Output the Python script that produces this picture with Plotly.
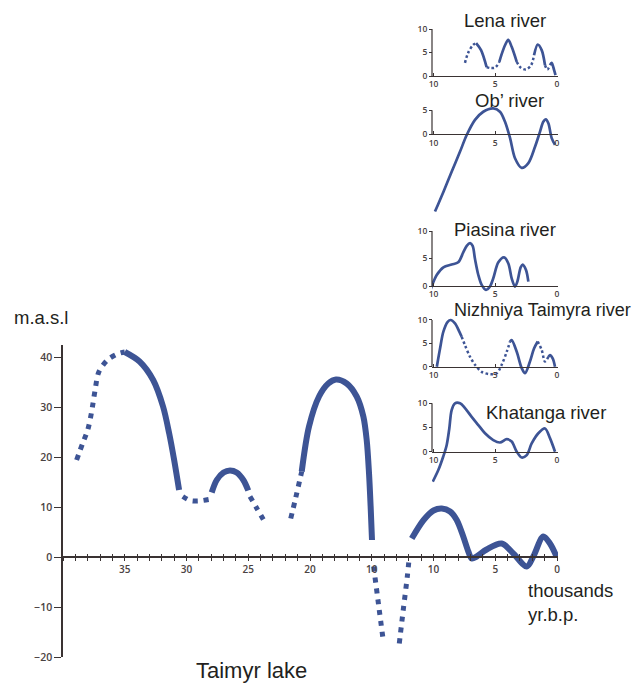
import plotly.graph_objects as go

# ---------------- DATA ----------------
# Taimyr lake level (m a.s.l.) vs age (thousand yr BP); seg = segment id, styles per segment
taimyr_age = [38.9, 38.4, 38.0, 37.7, 37.4, 37.1, 36.4, 35.6, 35.0,
              35.0, 33.8, 32.7, 31.9, 31.4, 31.0, 30.6,
              30.3, 29.7, 29.05, 28.2,
              27.96, 27.55, 27.0, 26.48, 25.94, 25.4, 25.0,
              24.86, 24.3, 23.64,
              21.56, 21.2, 20.67,
              20.67, 20.08, 19.27, 18.52, 17.9, 17.03, 16.22, 15.68, 15.41, 15.22, 15.09, 14.98,
              14.85, 14.45, 14.06,
              12.77, 12.45, 12.12, 11.96,
              11.76, 10.8, 10.0, 9.33, 8.66, 8.12, 7.59, 7.18, 6.9, 6.5, 5.7, 4.48, 3.54, 2.45, 1.92, 1.11, 0.57, 0.02]
taimyr_level = [19.4, 22.8, 25.4, 28.8, 33.4, 37.0, 39.4, 40.6, 41.0,
                41.0, 39.1, 35.4, 30.1, 24.7, 19.4, 13.4,
                12.1, 11.3, 11.2, 11.5,
                12.9, 15.4, 16.9, 17.3, 16.9, 15.4, 13.3,
                12.1, 9.7, 6.9,
                7.7, 11.4, 17.1,
                17.1, 26.1, 32.1, 34.7, 35.5, 34.7, 32.1, 28.1, 23.4, 16.7, 10.1, 3.4,
                -1.9, -9.5, -16.9,
                -17.3, -10.6, -3.9, 0.1,
                3.7, 7.4, 9.3, 9.7, 9.1, 7.4, 4.1, 1.1, -0.3, 0.1, 1.5, 2.7, 0.7, -1.9, 0.1, 4.1, 2.7, 0.0]
taimyr_seg = [0]*9 + [1]*7 + [2]*4 + [3]*7 + [4]*3 + [5]*3 + [6]*12 + [7]*3 + [8]*4 + [9]*18
taimyr_styles = ["dot", "solid", "dot", "solid", "dot", "dot", "solid", "dot", "dot", "solid"]
taimyr_tick_vals = [35, 30, 25, 20, 15, 10, 5, 0]
taimyr_tick_text = ["35", "30", "25", "20", "10", "10", "5", "0"]
taimyr_y_ticks = [-20, -10, 0, 10, 20, 30, 40]

lena_age = [7.45, 7.2, 6.8, 6.55,
            6.55, 6.15, 5.7,
            5.7, 5.4, 5.0, 4.67,
            4.67, 4.5, 4.2, 3.95, 3.67, 3.26,
            3.26, 2.9, 2.5, 2.1, 1.86,
            1.86, 1.56, 1.24, 0.97,
            0.97, 0.78, 0.57,
            0.57, 0.43, 0.24, 0.12]
lena_level = [2.8, 4.9, 6.6, 7.0,
              7.0, 5.5, 1.9,
              1.9, 1.7, 1.8, 3.0,
              3.0, 4.5, 6.6, 7.7, 6.2, 3.0,
              3.0, 1.7, 1.4, 2.3, 4.4,
              4.4, 6.7, 5.5, 2.3,
              2.3, 1.4, 2.3,
              2.3, 2.8, 1.3, 0.2]
lena_seg = [0]*4 + [1]*3 + [2]*4 + [3]*6 + [4]*5 + [5]*4 + [6]*3 + [7]*4
lena_styles = ["dot", "solid", "dot", "solid", "dot", "solid", "dot", "solid"]

ob_age = [9.88, 9.2, 8.53, 7.85, 7.31, 6.64, 5.97, 5.16, 4.62, 4.21, 3.8, 3.4, 2.86, 2.32,
          1.78, 1.38, 1.11, 0.91, 0.70, 0.43, 0.16]
ob_level = [-16.1, -12.0, -7.8, -3.6, -0.15, 3.0, 4.7, 5.4, 4.7, 2.6, -0.8, -5.0, -7.0, -6.0,
            -2.6, 0.5, 2.6, 3.1, 2.3, -0.8, -2.2]
ob_seg = [0]*21
ob_styles = ["solid"]

piasina_age = [10.42, 10.15, 9.74, 9.2, 8.53, 8.0, 7.59, 7.31, 7.04, 6.83, 6.64, 6.37, 6.1, 5.75,
               5.43, 5.16, 4.75, 4.29, 3.94, 3.67, 3.4, 3.21, 2.94, 2.78, 2.51, 2.32]
piasina_level = [-2.2, -0.1, 2.0, 3.4, 3.9, 4.3, 6.1, 7.3, 7.8, 7.3, 4.9, 2.0, 0.2, -0.7,
                 -0.1, 1.4, 4.3, 5.2, 4.1, 1.4, -0.1, 0.8, 3.4, 3.9, 2.9, 0.8]
piasina_seg = [0]*26
piasina_styles = ["solid"]

nizhniya_age = [9.73, 9.47, 9.2, 8.85, 8.61, 8.26, 7.91, 7.72,
                7.72, 7.45, 7.04, 6.64, 6.1, 5.43, 4.88, 4.48, 4.07, 3.8,
                3.8, 3.67, 3.26, 2.86, 2.59, 2.19, 1.86, 1.56,
                1.56, 1.24, 0.97, 0.70,
                0.70, 0.57, 0.35, 0.16]
nizhniya_level = [0.0, 3.9, 7.5, 9.6, 10.0, 9.3, 7.5, 6.4,
                  6.4, 4.6, 2.1, 0.4, -1.1, -1.6, -1.4, 0.4, 3.2, 5.4,
                  5.4, 5.7, 3.2, -0.3, -1.4, 1.1, 3.9, 5.4,
                  5.4, 3.6, 1.1, 2.1,
                  2.1, 2.5, 1.8, 0.0]
nizhniya_seg = [0]*8 + [1]*10 + [2]*8 + [3]*4 + [4]*4
nizhniya_styles = ["solid", "dot", "solid", "dot", "solid"]

khatanga_age = [10.06, 9.61, 9.21, 8.93, 8.72, 8.53, 8.26, 7.85, 7.45, 6.91, 6.37, 5.83, 5.16,
                4.62, 4.07, 3.67, 3.26, 2.86, 2.45, 2.05, 1.51, 0.97, 0.57, 0.16]
khatanga_level = [-6.2, -3.8, -1.0, 1.4, 4.8, 8.6, 10.0, 10.0, 9.0, 7.2, 5.5, 3.8, 2.4,
                  1.9, 2.6, 2.1, 0.0, -1.2, -0.7, 1.7, 3.8, 4.8, 2.8, 0.0]
khatanga_seg = [0]*24
khatanga_styles = ["solid"]

# ---------------- LAYOUT HELPERS ----------------
W, H = 640, 683
PLOT_L, PLOT_R = 62, 558   # page px of main plot area
ML = PLOT_L
PW = PLOT_R - PLOT_L
MR = W - ML - PW
PX_PER_KY = 12.35
X0_PX = 557.0  # page pixel of age 0


def pxx(px):
    return (px - PLOT_L) / PW


def pxy(py):
    return 1 - py / H


BLUE = "#3d5495"
AXIS = "#3a3333"
TICKC = "#4a4242"
TXT = "#231f20"

fig = go.Figure()


def add_series(xs, ys, segs, styles, xa, ya, w_solid, w_dot, dot_pattern):
    for s, st in enumerate(styles):
        sx = [x for x, k in zip(xs, segs) if k == s]
        sy = [y for y, k in zip(ys, segs) if k == s]
        fig.add_trace(go.Scatter(
            x=sx, y=sy, mode="lines", xaxis=xa, yaxis=ya, showlegend=False, hoverinfo="skip",
            line=dict(color=BLUE, width=w_solid if st == "solid" else w_dot,
                      dash="solid" if st == "solid" else dot_pattern,
                      shape="spline", smoothing=0.9)))


# main chart
add_series(taimyr_age, taimyr_level, taimyr_seg, taimyr_styles, "x", "y", 6, 5, "5px,6px")
fig.add_trace(go.Scatter(x=[], y=[], xaxis="x7", yaxis="y", showlegend=False))

main_x_left = (X0_PX - PLOT_L) / PX_PER_KY
main_x_right = (X0_PX - PLOT_R) / PX_PER_KY
all_ticks = list(range(0, 41))
tick_labels = {v: t for v, t in zip(taimyr_tick_vals, taimyr_tick_text)}
layout = dict(
    template="none",
    width=W, height=H, autosize=False,
    margin=dict(l=ML, r=MR, t=0, b=0, pad=0, autoexpand=False),
    paper_bgcolor="white", plot_bgcolor="white",
    showlegend=False,
    xaxis=dict(domain=[0, 1], range=[main_x_left, main_x_right], anchor="free", position=pxy(557),
               automargin=False,
               showline=True, linecolor=AXIS, linewidth=1.5, showgrid=False, zeroline=False,
               tickmode="array", tickvals=all_ticks,
               ticktext=[tick_labels.get(v, "") for v in all_ticks],
               ticks="outside", ticklen=3, tickwidth=1.2, tickcolor=AXIS,
               tickfont=dict(family="Open Sans", size=10, color=TICKC, weight=600)),
    xaxis7=dict(overlaying="x", range=[main_x_left, main_x_right], anchor="free", position=pxy(557),
                automargin=False,
                showline=False, showgrid=False, zeroline=False, tickmode="array", tickvals=all_ticks,
                showticklabels=False, ticks="inside", ticklen=3, tickwidth=1.2, tickcolor=AXIS),
    yaxis=dict(domain=[pxy(657), pxy(345)], range=[-20, (X0_PX - 345) / 5.0],
               anchor="free", position=0, automargin=False,
               showline=True, linecolor=AXIS, linewidth=1.5,
               showgrid=False, zeroline=False, tickmode="array", tickvals=taimyr_y_ticks,
               ticks="outside", ticklen=7, tickwidth=1.2, tickcolor=AXIS,
               tickfont=dict(family="Open Sans", size=10.5, color=TICKC, weight=600)),
)

# insets: (data, zero px, px per unit, ymin, ymax, top tick)
insets = [
    (lena_age, lena_level, lena_seg, lena_styles, 76.0, 4.7, -1.0, 10.6, 10, [0, 5, 10]),
    (ob_age, ob_level, ob_seg, ob_styles, 134.3, 4.8, -17.2, 5.8, 5, [0, 5]),
    (piasina_age, piasina_level, piasina_seg, piasina_styles, 286.0, 5.5, -2.6, 10.6, 10, [0, 5, 10]),
    (nizhniya_age, nizhniya_level, nizhniya_seg, nizhniya_styles, 366.7, 4.67, -2.4, 10.6, 10, [0, 5, 10]),
    (khatanga_age, khatanga_level, khatanga_seg, khatanga_styles, 451.7, 4.84, -6.8, 10.6, 10, [0, 5, 10]),
]
inset_x_left_px, inset_x_right_px = 432.0, 557.5
inset_range = [(X0_PX - inset_x_left_px) / PX_PER_KY, (X0_PX - inset_x_right_px) / PX_PER_KY]
shapes = []
for i, (xs, ys, sg, stl, zp, ppu, vmin, vmax, top, yt) in enumerate(insets):
    n = i + 2
    add_series(xs, ys, sg, stl, f"x{n}", f"y{n}", 2.7, 2.5, "2.5px,2.5px")
    layout[f"xaxis{n}"] = dict(
        domain=[pxx(inset_x_left_px), pxx(inset_x_right_px)], range=inset_range,
        anchor="free", position=pxy(zp), automargin=False,
        showline=True, linecolor=AXIS, linewidth=1.2,
        showgrid=False, zeroline=False, tickmode="array", tickvals=[10, 5, 0],
        ticks="inside", ticklen=3, tickwidth=1, tickcolor=AXIS,
        tickfont=dict(family="Open Sans", size=8.5, color=TICKC, weight=600))
    layout[f"yaxis{n}"] = dict(
        domain=[pxy(zp - vmin * ppu), pxy(zp - vmax * ppu)], range=[vmin, vmax],
        anchor="free", position=pxx(inset_x_left_px), automargin=False,
        showline=False, showgrid=False,
        zeroline=False, tickmode="array", tickvals=yt, ticks="outside", ticklen=3,
        tickwidth=1, tickcolor=AXIS,
        tickfont=dict(family="Open Sans", size=8.5, color=TICKC, weight=600))
    shapes.append(dict(type="line", xref="paper", yref=f"y{n}",
                       x0=pxx(inset_x_left_px), x1=pxx(inset_x_left_px), y0=0, y1=top,
                       line=dict(color=AXIS, width=1.2)))
layout["shapes"] = shapes

F = "Liberation Sans"


def ann(text, px, py, size=18.5, xanchor="center"):
    return dict(text=text, x=pxx(px), y=pxy(py), xref="paper", yref="paper", showarrow=False,
                xanchor=xanchor, yanchor="middle", font=dict(family=F, size=size, color=TXT))


layout["annotations"] = [
    ann("Lena river", 505, 20),
    ann("Ob’ river", 509, 100),
    ann("Piasina river", 504.5, 230),
    ann("Nizhniya Taimyra river", 542, 310, size=18),
    ann("Khatanga river", 546, 412),
    ann("m.a.s.l", 12, 318, xanchor="left"),
    ann("thousands", 526, 590, xanchor="left"),
    ann("yr.b.p.", 526, 614, xanchor="left"),
    ann("Taimyr lake", 251, 670, size=22),
]

fig.update_layout(**layout)
fig.write_html("out.html", config={"displayModeBar": False},
               post_script="document.body.style.margin='0';document.body.style.overflow='hidden';")
